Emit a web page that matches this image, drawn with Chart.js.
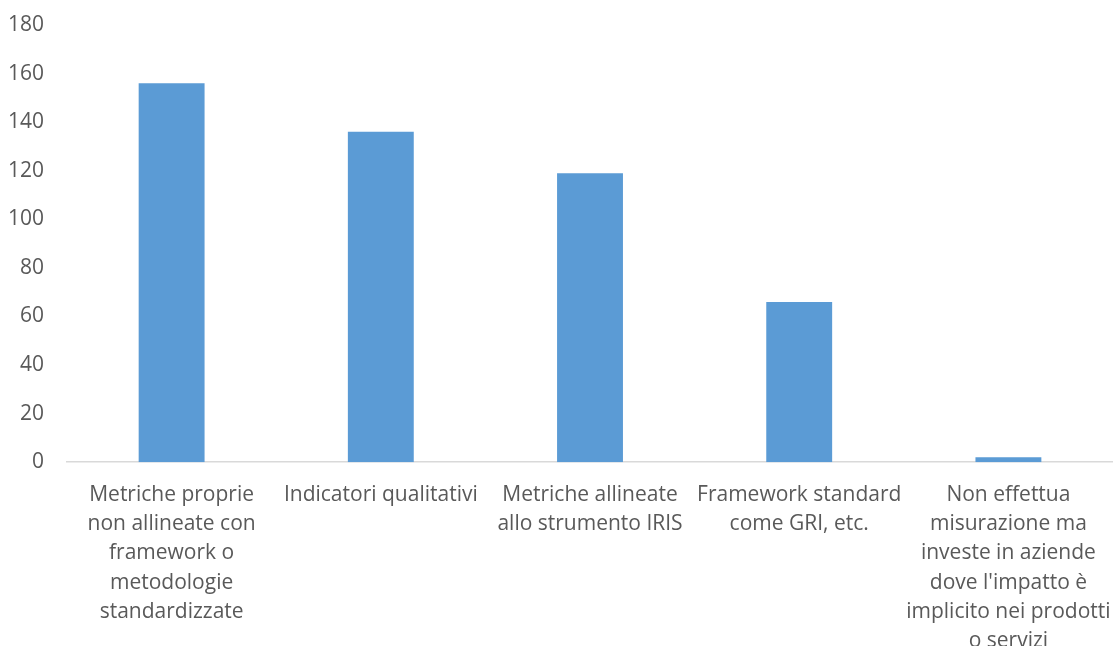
<!DOCTYPE html>
<html>
<head>
<meta charset="utf-8">
<script src="https://cdn.jsdelivr.net/npm/chart.js@4"></script>
<style>
  html, body { margin: 0; padding: 0; background: #fff; overflow: hidden; }
  #wrap { width: 1113px; height: 646px; overflow: hidden; }
  #box { width: 1113px; height: 653px; position: relative; }
</style>
</head>
<body>
<div id="wrap"><div id="box"><canvas id="grafico"></canvas></div></div>
<script>
// categorie (già spezzate su più righe come nell'originale)
const categorie = [
    ['Metriche proprie', 'non allineate con', 'framework o', 'metodologie', 'standardizzate'],
    ['Indicatori qualitativi'],
    ['Metriche allineate', 'allo strumento IRIS'],
    ['Framework standard', 'come GRI, etc.'],
    ['Non effettua', 'misurazione ma', 'investe in aziende', "dove l'impatto è", 'implicito nei prodotti', 'o servizi']
];
const valori = [156, 136, 119, 66, 2];
const asseY = { min: 0, max: 180, passo: 20 };

document.addEventListener('DOMContentLoaded', function() {
    const ctx = document.getElementById('grafico').getContext('2d');
    const testo = '#595959';
    const fontBase = { family: '"Open Sans", sans-serif', size: 21 };

    new Chart(ctx, {
        type: 'bar',
        data: {
            labels: categorie,
            datasets: [{
                data: valori,
                backgroundColor: '#5B9BD5',
                borderWidth: 0,
                categoryPercentage: 1,
                barPercentage: 0.315
            }]
        },
        options: {
            responsive: true,
            maintainAspectRatio: false,
            animation: false,
            layout: { padding: { top: 25, left: -15, right: 0, bottom: -21 } },
            plugins: {
                legend: { display: false },
                tooltip: { enabled: false }
            },
            scales: {
                x: {
                    grid: { display: false, drawTicks: false },
                    border: { display: true, color: '#D9D9D9', width: 1.5 },
                    ticks: {
                        color: testo,
                        font: { ...fontBase, lineHeight: '29.3px' },
                        maxRotation: 0,
                        autoSkip: false,
                        padding: 18
                    },
                    // niente spazio extra ai lati per le etichette lunghe
                    afterFit(scale) {
                        scale.paddingLeft = 0;
                        scale.paddingRight = 0;
                    }
                },
                y: {
                    min: asseY.min,
                    max: asseY.max,
                    grid: { display: false, drawTicks: false },
                    border: { display: false },
                    ticks: {
                        stepSize: asseY.passo,
                        color: testo,
                        font: fontBase,
                        padding: 23
                    },
                    afterFit(scale) {
                        scale.paddingTop = 0;
                        scale.paddingBottom = 0;
                    }
                }
            }
        }
    });
});
</script>
</body>
</html>
